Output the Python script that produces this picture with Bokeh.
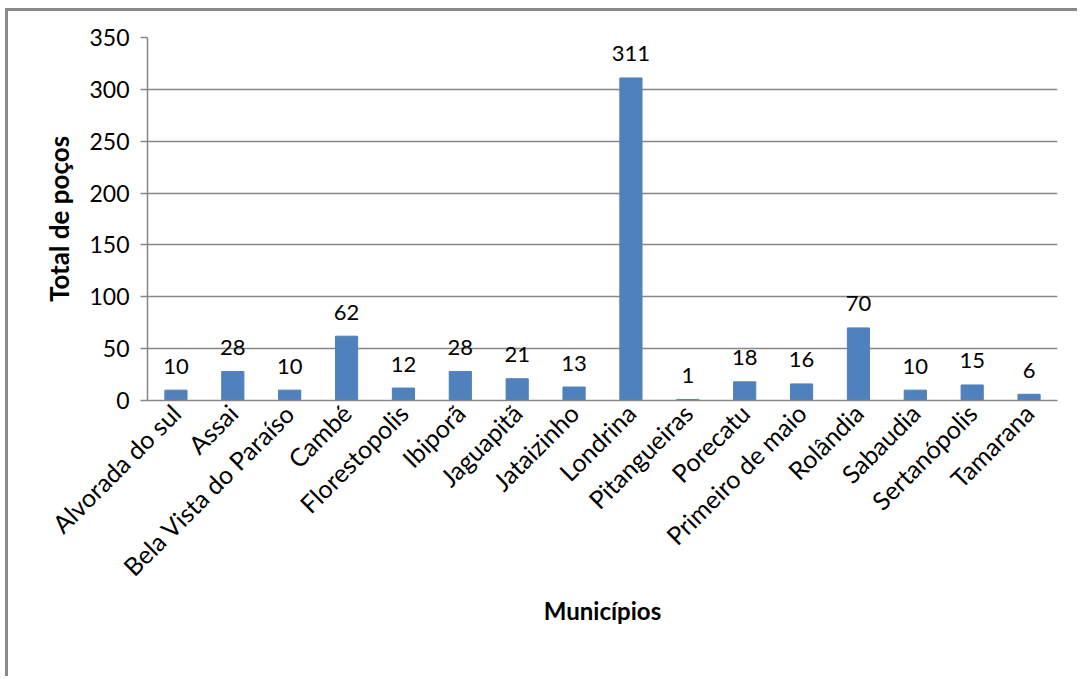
from bokeh.plotting import figure
from bokeh.models import FactorRange, FixedTicker, ColumnDataSource
from bokeh.core.properties import value
from bokeh.embed import file_html
from bokeh.resources import INLINE

# Number of wells per municipality
municipios = [
    "Alvorada do sul", "Assai", "Bela Vista do Paraíso", "Cambé", "Florestopolis",
    "Ibiporã", "Jaguapitã", "Jataizinho", "Londrina", "Pitangueiras", "Porecatu",
    "Primeiro de maio", "Rolândia", "Sabaudia", "Sertanópolis", "Tamarana",
]
total_pocos = [10, 28, 10, 62, 12, 28, 21, 13, 311, 1, 18, 16, 70, 10, 15, 6]
y_ticks = [0, 50, 100, 150, 200, 250, 300, 350]

FONT = "Lato"
GRAY = "#868686"
BAR = "#4F81BD"

src = ColumnDataSource(dict(
    x=municipios,
    y=total_pocos,
    label=[str(v) for v in total_pocos],
))

p = figure(
    width=1072, height=668,
    x_range=FactorRange(*municipios),
    y_range=(0, 350),
    output_backend="svg", toolbar_location=None,
    min_border_left=139, min_border_right=23,
    min_border_top=26, min_border_bottom=279,
    x_axis_label="Municípios", y_axis_label="Total de poços",
)
# chart border (left and top edges fall inside the window)
p.styles = {
    "margin-left": "5px", "margin-top": "8px",
    "border-left": "3px solid #8a8a8a", "border-top": "3px solid #8a8a8a",
}
p.outline_line_color = None
p.background_fill_color = "white"
p.border_fill_color = "white"

p.vbar(x="x", top="y", width=0.39, source=src, fill_color=BAR, line_color=BAR)
p.text(x="x", y="y", text="label", source=src, text_align="center",
       text_baseline="middle", y_offset=-24, text_font=value(FONT),
       text_font_size="22px", text_color="black")

# grid
p.xgrid.grid_line_color = None
p.ygrid.grid_line_color = GRAY
p.ygrid.grid_line_width = 1.5
p.ygrid.ticker = FixedTicker(ticks=y_ticks)

# y axis
ya = p.yaxis[0]
ya.ticker = FixedTicker(ticks=y_ticks)
ya.axis_line_color = GRAY
ya.axis_line_width = 1.5
ya.major_tick_line_color = GRAY
ya.major_tick_line_width = 1.5
ya.major_tick_out = 7
ya.major_tick_in = 0
ya.minor_tick_line_color = None
ya.major_label_standoff = 11
ya.major_label_text_font = FONT
ya.major_label_text_font_size = "23px"
ya.major_label_text_color = "black"
ya.axis_label_text_font = FONT
ya.axis_label_text_font_size = "26px"
ya.axis_label_text_font_style = "bold"
ya.axis_label_text_color = "black"
ya.axis_label_standoff = 11

# x axis
xa = p.xaxis[0]
xa.axis_line_color = GRAY
xa.axis_line_width = 1.5
xa.major_tick_line_color = None
xa.major_tick_out = 0
xa.major_tick_in = 0
xa.minor_tick_line_color = None
xa.major_label_orientation = 0.785398
xa.major_label_standoff = 8
xa.major_label_text_font = FONT
xa.major_label_text_font_size = "25px"
xa.major_label_text_color = "black"
xa.axis_label_text_font = FONT
xa.axis_label_text_font_size = "24px"
xa.axis_label_text_font_style = "bold"
xa.axis_label_text_color = "black"
xa.axis_label_standoff = 1

open("out.html", "w").write(file_html(p, INLINE))
